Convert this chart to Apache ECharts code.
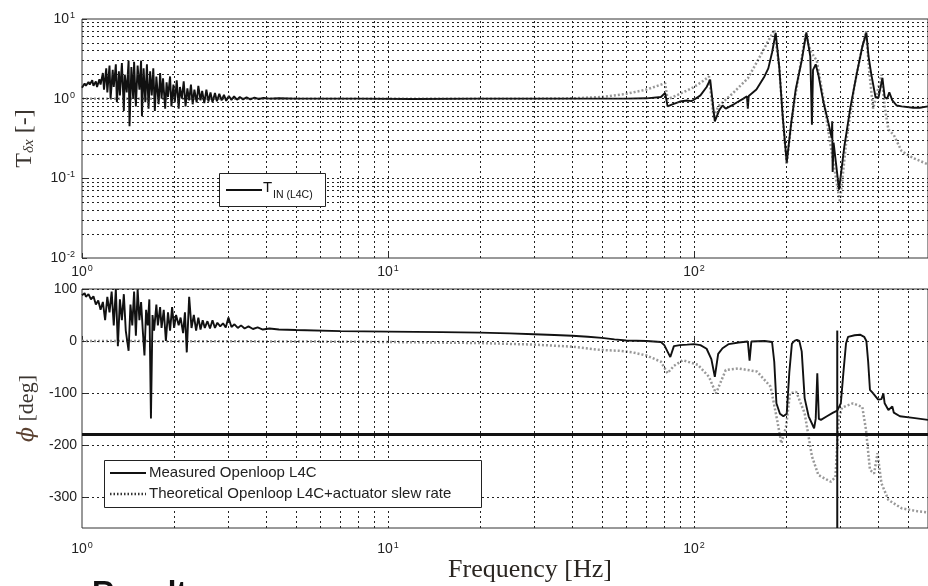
<!DOCTYPE html>
<html lang="en">
<head>
    <meta charset="UTF-8">
    <title>L4C openloop</title>
    <style>
      html, body { margin: 0; padding: 0; background: #fff; }
    </style>
</head>
<body>
    <div id="main" style="width: 928px; height: 586px;"></div>
    <script src="https://cdn.jsdelivr.net/npm/echarts@6/dist/echarts.min.js"></script>
    <script>
      // frequency range of both panels [Hz]
      const freqMin = 1;
      const freqMax = 582;

      // grid lines (MATLAB style, every 1..9 per decade)
      const freqGrid = [2,3,4,5,6,7,8,9,10,20,30,40,50,60,70,80,90,100,200,300,400,500];
      const magGrid = [0.02,0.03,0.04,0.05,0.06,0.07,0.08,0.09,0.1,0.2,0.3,0.4,0.5,0.6,0.7,0.8,0.9,1,2,3,4,5,6,7,8,9];
      const phaseTicks = [-300, -200, -100, 0, 100];

      // top panel: transmissibility, measured T_IN(L4C)
      const magMeasured = [
        [1.00,1.37],[1.02,1.55],[1.03,1.45],[1.05,1.62],[1.06,1.50],[1.08,1.70],[1.09,1.45],[1.11,1.65],
        [1.12,1.40],[1.14,1.75],[1.15,1.50],[1.17,2.10],[1.18,1.30],[1.20,2.40],[1.21,1.20],[1.23,2.60],
        [1.24,1.00],[1.26,2.30],[1.27,1.40],[1.29,2.70],[1.30,0.90],[1.32,2.20],[1.33,1.10],[1.35,2.80],
        [1.37,0.70],[1.38,2.00],[1.40,1.20],[1.42,3.00],[1.43,0.45],[1.45,2.50],[1.47,1.00],[1.48,2.90],
        [1.50,0.80],[1.52,2.60],[1.54,1.30],[1.56,3.00],[1.57,0.60],[1.59,2.40],[1.61,0.90],[1.63,2.70],
        [1.65,0.75],[1.67,2.20],[1.69,1.10],[1.71,2.40],[1.73,0.70],[1.75,1.90],[1.78,0.85],[1.80,2.10],
        [1.82,1.00],[1.84,1.80],[1.87,0.75],[1.89,1.60],[1.91,1.05],[1.94,1.90],[1.96,0.80],[1.99,1.50],
        [2.01,0.90],[2.04,1.70],[2.07,0.75],[2.09,1.40],[2.12,1.00],[2.15,1.65],[2.18,0.80],[2.21,1.35],
        [2.24,0.95],[2.27,1.50],[2.30,0.85],[2.33,1.30],[2.37,0.90],[2.40,1.45],[2.44,0.95],[2.47,1.25],
        [2.51,0.88],[2.55,1.30],[2.59,0.92],[2.63,1.20],[2.67,0.90],[2.72,1.18],[2.76,0.93],[2.81,1.15],
        [2.86,0.95],[2.91,1.12],[2.96,0.94],[3.02,1.08],[3.08,0.96],[3.14,1.07],[3.21,0.97],[3.28,1.05],
        [3.36,0.98],[3.45,1.04],[3.55,0.98],[3.66,1.03],[3.78,0.99],[3.92,1.02],[4.1,1.00],[4.4,1.01],
        [5,1.0],[8,1.0],[12,0.99],[20,1.0],[30,1.0],[40,1.0],[50,1.0],[60,1.0],[70,1.01],[78,1.05],
        [80.5,1.18],[82,0.80],[85,0.85],[90,0.92],[95,0.95],[98,0.93],[100,0.97],[105,1.1],[110,1.4],
        [113,1.73],[117,0.52],[121,0.72],[124,0.82],[127,0.75],[135,0.85],[145,1.0],[149,1.07],[150,0.75],
        [151,1.08],[160,1.3],[170,1.9],[175,2.4],[180,3.8],[185,6.7],[190,2.5],[195,0.6],[201,0.157],
        [208,0.5],[215,1.3],[225,3.0],[233,6.8],[240,3.4],[243,0.47],[245,2.3],[250,2.7],[255,2.0],
        [265,0.9],[275,0.5],[282,0.32],[283,0.52],[284,0.12],[286,0.28],[298,0.072],[310,0.25],[325,0.8],
        [340,2.0],[355,4.5],[366,6.7],[372,3.4],[380,2.0],[392,1.05],[401,1.03],[413,1.82],[420,1.05],
        [428,1.0],[435,1.2],[445,0.95],[460,0.82],[477,0.8],[520,0.77],[547,0.77],[582,0.8]
      ];

      // top panel: theoretical curve
      const magTheory = [
        [1,1.0],[10,1.0],[30,1.0],[40,1.01],[50,1.05],[60,1.15],[70,1.3],[78,1.5],[80.5,1.57],[82,0.98],
        [90,1.15],[100,1.4],[108,1.7],[112,1.9],[116,0.57],[120,0.8],[134,1.17],[150,1.8],[167,3.8],
        [183,7.3],[190,2.5],[195,0.6],[201,0.15],[208,0.5],[220,2.0],[232,6.5],[240,4.0],[252,3.0],
        [265,1.0],[280,0.25],[300,0.05],[315,0.3],[335,1.5],[350,3.5],[365,7.0],[375,2.0],[385,0.75],
        [395,1.1],[410,2.0],[420,0.8],[432,0.41],[450,0.35],[477,0.22],[520,0.18],[582,0.15]
      ];

      // bottom panel: measured openloop phase [deg]
      const phaseMeasured = [
        [1.00,88],[1.02,92],[1.03,85],[1.05,90],[1.07,80],[1.09,86],[1.11,70],[1.13,78],[1.15,60],
        [1.17,75],[1.19,40],[1.21,85],[1.23,55],[1.25,95],[1.27,30],[1.29,100],[1.31,-10],[1.33,80],
        [1.35,40],[1.37,90],[1.39,20],[1.42,-19],[1.44,70],[1.46,30],[1.48,95],[1.50,10],[1.52,100],
        [1.54,40],[1.56,75],[1.58,20],[1.60,-28],[1.62,60],[1.64,30],[1.66,80],[1.68,-149],[1.70,50],
        [1.72,20],[1.75,70],[1.77,30],[1.80,65],[1.82,25],[1.85,60],[1.88,0],[1.91,55],[1.94,20],
        [1.97,65],[2.0,25],[2.03,50],[2.07,30],[2.10,45],[2.14,15],[2.17,55],[2.20,-22],[2.24,85],
        [2.28,25],[2.32,50],[2.36,20],[2.40,45],[2.44,22],[2.48,40],[2.52,25],[2.57,38],[2.62,24],
        [2.67,40],[2.72,25],[2.77,35],[2.83,28],[2.89,34],[2.95,26],[3.01,45],[3.08,27],[3.15,32],
        [3.23,25],[3.31,30],[3.40,24],[3.50,28],[3.62,23],[3.75,26],[3.90,22],[4.1,24],[4.4,22],
        [5,21],[7,19],[10,18],[15,17],[20,16],[25,14.5],[30,13],[35,11.5],[40,10],[45,8],[50,6],
        [55,3],[60,1],[70,0],[78,-2],[80,-8],[83.7,-31],[86,-10],[90,-8],[95,-7],[100,-6],[105,-8],
        [110,-15],[114,-35],[117,-69],[120,-25],[124,-14],[130,-6],[140,-3],[150,-1],[152,-38],[154,-1],
        [170,0],[180,-2],[183,-40],[186,-120],[191,-140],[196,-145],[201,-140],[205,-60],[209,-5],
        [213,0],[217,2],[221,0],[225,-20],[230,-110],[237,-145],[247,-168],[250,-150],[253,-62],
        [256,-150],[260,-152],[272,-145],[285,-138],[294,-134],[302,-120],[308,-60],[314,-5],[319,8],
        [335,11],[349,12],[360,8],[366,0],[371,-40],[376,-94],[384,-100],[400,-113],[410,-112],
        [416,-101],[420,-120],[432,-133],[445,-126],[450,-138],[471,-145],[520,-148],[582,-152]
      ];

      // bottom panel: theoretical openloop incl. actuator slew rate
      const phaseTheory = [
        [1,0],[5,-1],[10,-2],[20,-4],[30,-7],[40,-11],[49,-17],[57,-19],[63,-22],[70,-28],[78,-40],
        [82,-62],[86,-48],[92,-37],[103,-46],[112,-69],[118,-101],[127,-56],[140,-53],[161,-59],
        [178,-88],[187,-152],[193,-197],[200,-165],[206,-101],[216,-98],[230,-139],[243,-222],
        [255,-258],[280,-271],[290,-262],[297,-150],[305,-128],[331,-120],[355,-127],[365,-171],
        [376,-248],[388,-255],[398,-216],[410,-274],[432,-306],[477,-322],[540,-328],[582,-330]
      ];

      // reference lines: -180 deg and the marked frequency
      const phaseLimit = -180;
      const markFreq = 294;
      const markSpan = [20, -360];

      var chartDom = document.getElementById('main');
      var myChart = echarts.init(chartDom);
      var option;

      const powLabel = v => '{b|10}{s|' + Math.round(Math.log10(v)) + '}';
      const labelFont = 'Liberation Sans';
      const powRich = {
        b: { fontSize: 14, fontFamily: labelFont, color: '#222' },
        s: { fontSize: 9, fontFamily: labelFont, color: '#222', verticalAlign: 'top', padding: [0, 0, 7, 1] }
      };
      const gridLine = { color: '#222', type: [2, 3], width: 1 };

      function gridMarks(xs, ys) {
        return {
          silent: true,
          symbol: 'none',
          animation: false,
          label: { show: false },
          lineStyle: gridLine,
          emphasis: { disabled: true },
          data: xs.map(v => ({ xAxis: v })).concat(ys.map(v => ({ yAxis: v })))
        };
      }

      option = {
        animation: false,
        backgroundColor: '#fff',
        grid: [
          { left: 82, top: 19, right: 0, height: 239, show: true, borderColor: '#333', borderWidth: 1 },
          { left: 82, top: 289, right: 0, height: 239, show: true, borderColor: '#333', borderWidth: 1 }
        ],
        xAxis: [
          {
            type: 'log', gridIndex: 0, min: freqMin, max: freqMax, logBase: 10,
            axisLine: { show: false }, splitLine: { show: false },
            axisTick: { inside: true, length: 5, lineStyle: { color: '#333' } },
            axisLabel: { formatter: powLabel, rich: powRich, margin: 6, showMaxLabel: false }
          },
          {
            type: 'log', gridIndex: 1, min: freqMin, max: freqMax, logBase: 10,
            axisLine: { show: false }, splitLine: { show: false },
            axisTick: { inside: true, length: 5, lineStyle: { color: '#333' } },
            axisLabel: { formatter: powLabel, rich: powRich, margin: 13, showMaxLabel: false }
          }
        ],
        yAxis: [
          {
            type: 'log', gridIndex: 0, min: 0.01, max: 10, logBase: 10,
            axisLine: { show: false }, splitLine: { show: false },
            axisTick: { inside: true, length: 5, lineStyle: { color: '#333' } },
            axisLabel: { formatter: powLabel, rich: powRich, margin: 7 },
            name: 'T{s|δx} [-]', nameLocation: 'middle', nameGap: 45, nameRotate: 90,
            nameTextStyle: {
              fontFamily: 'Liberation Serif', fontSize: 24, color: '#3b3530',
              rich: { s: { fontFamily: 'Liberation Serif', fontStyle: 'italic', fontSize: 15, color: '#3b3530', padding: [9, 0, 0, 0] } }
            }
          },
          {
            type: 'value', gridIndex: 1, min: -360, max: 100,
            axisLine: { show: false }, splitLine: { show: false },
            axisTick: { inside: true, length: 5, customValues: phaseTicks, lineStyle: { color: '#333' } },
            axisLabel: { customValues: phaseTicks, fontFamily: labelFont, fontSize: 14, color: '#222', margin: 5 },
            name: '{p|ϕ} [deg]', nameLocation: 'middle', nameGap: 44, nameRotate: 90,
            nameTextStyle: {
              fontFamily: 'Liberation Serif', fontSize: 22, color: '#3b3530',
              rich: { p: { fontFamily: 'DejaVu Serif', fontStyle: 'italic', fontSize: 22, color: '#5a4030' } }
            }
          }
        ],
        graphic: [
          // top legend
          { type: 'rect', shape: { x: 219.5, y: 173.5, width: 106, height: 33 }, style: { fill: '#fff', stroke: '#222', lineWidth: 1 }, z: 50 },
          { type: 'line', shape: { x1: 226, y1: 190, x2: 262, y2: 190 }, style: { stroke: '#111', lineWidth: 2 }, z: 51 },
          { type: 'text', x: 263, y: 180, style: { text: 'T', font: '15px "Liberation Sans"', fill: '#111' }, z: 51 },
          { type: 'text', x: 273, y: 190, style: { text: 'IN (L4C)', font: '10.5px "Liberation Sans"', fill: '#111' }, z: 51 },
          // bottom legend
          { type: 'rect', shape: { x: 104.5, y: 460.5, width: 377, height: 47 }, style: { fill: '#fff', stroke: '#222', lineWidth: 1 }, z: 50 },
          { type: 'line', shape: { x1: 110, y1: 473, x2: 146, y2: 473 }, style: { stroke: '#111', lineWidth: 2 }, z: 51 },
          { type: 'line', shape: { x1: 110, y1: 494, x2: 146, y2: 494 }, style: { stroke: '#333', lineWidth: 2.5, lineDash: [1.5, 2] }, z: 51 },
          { type: 'text', x: 149, y: 465, style: { text: 'Measured Openloop L4C', font: '15px "Liberation Sans"', fill: '#222' }, z: 51 },
          { type: 'text', x: 149, y: 486, style: { text: 'Theoretical Openloop L4C+actuator slew rate', font: '15px "Liberation Sans"', fill: '#222' }, z: 51 },
          // x axis title
          { type: 'text', x: 530, y: 570, style: { text: 'Frequency [Hz]', font: '26px "Liberation Serif"', fill: '#2a2520', align: 'center', verticalAlign: 'middle' } },
          // heading cut off by the picture edge
          { type: 'text', x: 92, y: 579, style: { text: 'Results', font: 'bold 31px "Liberation Sans"', fill: '#111', verticalAlign: 'top' } }
        ],
        series: [
          { type: 'line', xAxisIndex: 0, yAxisIndex: 0, data: [], markLine: gridMarks(freqGrid, magGrid), z: 1 },
          { type: 'line', xAxisIndex: 1, yAxisIndex: 1, data: [], markLine: gridMarks(freqGrid, phaseTicks), z: 1 },
          {
            name: 'theory', type: 'line', xAxisIndex: 0, yAxisIndex: 0, data: magTheory,
            showSymbol: false, lineStyle: { color: '#999', width: 2.5, type: [2, 2] }, z: 3
          },
          {
            name: 'measured', type: 'line', xAxisIndex: 0, yAxisIndex: 0, data: magMeasured,
            showSymbol: false, lineStyle: { color: '#111', width: 1.9 }, z: 4
          },
          {
            name: 'theory', type: 'line', xAxisIndex: 1, yAxisIndex: 1, data: phaseTheory,
            showSymbol: false, lineStyle: { color: '#999', width: 2.5, type: [2, 2] }, z: 3
          },
          {
            name: 'measured', type: 'line', xAxisIndex: 1, yAxisIndex: 1, data: phaseMeasured,
            showSymbol: false, lineStyle: { color: '#111', width: 1.9 }, z: 4
          },
          {
            name: 'limit', type: 'line', xAxisIndex: 1, yAxisIndex: 1,
            data: [[freqMin, phaseLimit], [freqMax, phaseLimit]],
            showSymbol: false, lineStyle: { color: '#111', width: 3 }, z: 5
          },
          {
            name: 'mark', type: 'line', xAxisIndex: 1, yAxisIndex: 1,
            data: [[markFreq, markSpan[0]], [markFreq, markSpan[1]]],
            showSymbol: false, lineStyle: { color: '#111', width: 2 }, z: 5
          }
        ]
      };

      option && myChart.setOption(option);
    </script>
</body>
</html>
